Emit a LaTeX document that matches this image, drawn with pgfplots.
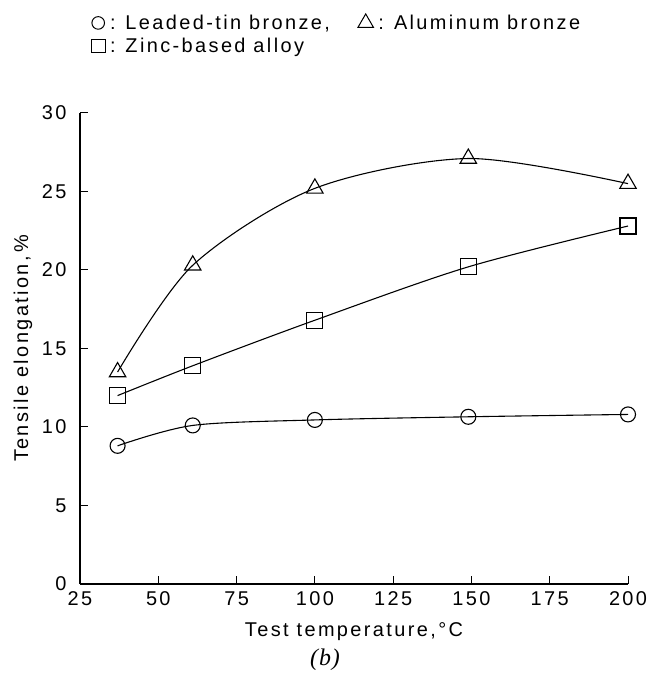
\documentclass[border=0pt]{standalone}
\usepackage{fontspec}
\setmainfont{Liberation Sans}[LetterSpace=12]
\newfontfamily\capfont{Liberation Serif}
\usepackage{pgfplots}
\pgfplotsset{compat=1.18}

\newcommand\lgfont{\fontsize{20}{22}\selectfont}

% Tensile elongation against test temperature for three bearing alloys
\pgfplotstableread{
T    E
37   8.8
61   10.1
100  10.45
149  10.65
200  10.8
}\leadedtin
\pgfplotstableread{
T    E
37   12.0
61   13.9
100  16.8
149  20.2
200  22.8
}\zincalloy
\pgfplotstableread{
T    E
37   13.5
61   20.3
100  25.2
149  27.1
200  25.5
}\alumbronze

\begin{document}
\begin{tikzpicture}[x=1bp,y=1bp]
\path[use as bounding box] (0,0) rectangle (647,683);
\begin{axis}[
  at={(80bp,99bp)}, anchor=south west,
  scale only axis, width=548bp, height=471bp,
  xmin=25, xmax=200, ymin=0, ymax=30,
  xtick={25,50,...,200}, ytick={0,5,...,30},
  axis x line=bottom, axis y line=left,
  axis line style={-, line width=1.1pt},
  tick align=inside, major tick length=8bp,
  tick style={line width=1pt, black},
  /pgf/number format/assume math mode=true,
  ticklabel style={font=\fontsize{20}{22}\selectfont},
  xticklabel style={anchor=north, yshift=-4bp},
  yticklabel style={anchor=east, xshift=-10bp},
  label style={font=\fontsize{20}{22}\selectfont},
  xlabel={Test temperature,°C},
  ylabel={Tensile elongation,\,\%},
  xlabel style={at={(axis description cs:0.5,-0.102)}, anchor=center},
  ylabel style={at={(axis description cs:-0.104,0.5)}, anchor=center},
  clip=false,
  legend columns=2,
  legend cell align=left,
  legend style={draw=none, fill=none, at={(0.015,1.217)}, anchor=north west,
    font=\lgfont, row sep=3bp,
    /tikz/every even column/.append style={column sep=26bp}},
  every axis plot/.append style={line width=1.1pt, black},
]
\addlegendimage{only marks, mark=o, mark size=6.3bp, mark options={line width=1pt}}
\addlegendentry{\lgfont \kern3bp:\enspace Leaded-tin bronze,}
\addlegendimage{only marks, mark=triangle, mark size=9bp, mark options={line width=1pt}}
\addlegendentry{\lgfont \kern3bp:\enspace Aluminum bronze}
\addlegendimage{only marks, mark=square, mark size=6.8bp, mark options={line width=1pt}}
\addlegendentry{\lgfont \kern3bp:\enspace Zinc-based alloy}

\addplot[smooth, mark=o, mark size=7.5bp, mark options={fill=white}] table[x=T,y=E] {\leadedtin};
\addplot[smooth, mark=square, mark size=8bp, mark options={fill=white}] table[x=T,y=E] {\zincalloy};
\addplot[smooth, mark=triangle, mark size=9.5bp, mark options={fill=white}] table[x=T,y=E] {\alumbronze};
\end{axis}
\node[font=\capfont\itshape\fontsize{24}{26}\selectfont] at (325,23) {(\kern1pt b\kern1pt)};
\end{tikzpicture}
\end{document}
